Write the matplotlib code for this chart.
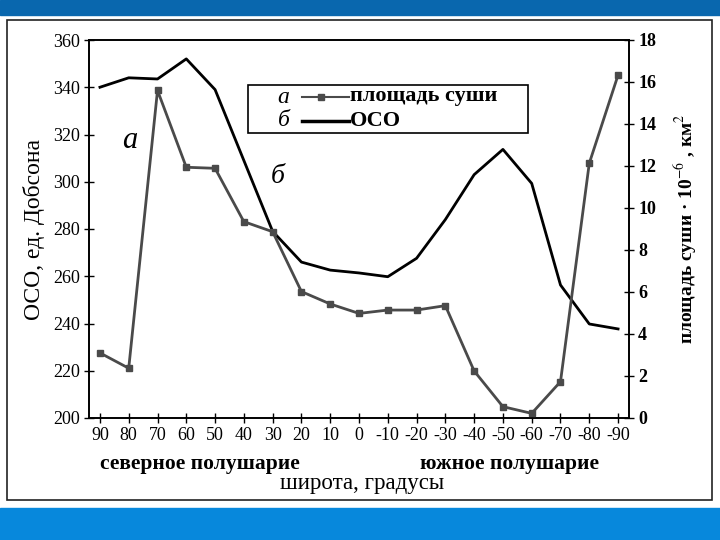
import matplotlib.pyplot as plt
from matplotlib.patches import Rectangle
from matplotlib.lines import Line2D

plt.rcParams['font.family'] = ['Liberation Serif', 'DejaVu Serif']
plt.rcParams['mathtext.fontset'] = 'stix'

# широта, градусы
latitude = [90, 80, 70, 60, 50, 40, 30, 20, 10, 0,
            -10, -20, -30, -40, -50, -60, -70, -80, -90]
lat_labels = ['90', '80', '70', '60', '50', '40', '30', '20', '10', '0',
              '-10', '-20', '-30', '-40', '-50', '-60', '-70', '-80', '-90']
# ОСО, ед. Добсона
oco = [340, 344, 343.5, 352, 339, 309, 279, 266, 262.6, 261.4,
       259.8, 267.6, 284, 303, 313.7, 299.3, 256.3, 239.8, 237.7]
# площадь суши, 10^6 км^2
land = [3.1, 2.37, 15.6, 11.94, 11.89, 9.35, 8.87, 6.02, 5.43, 4.98,
        5.14, 5.14, 5.35, 2.24, 0.54, 0.22, 1.73, 12.13, 16.33]

fig = plt.figure(figsize=(7.2, 5.4), dpi=100)

# slide decoration
fig.patches.append(Rectangle((0, 1 - 15 / 540), 1, 15 / 540, transform=fig.transFigure,
                             color='#0967AE', zorder=0))
fig.patches.append(Rectangle((0, 0), 1, 32 / 540, transform=fig.transFigure,
                             color='#0788DC', zorder=0))
fig.patches.append(Rectangle((7 / 720, 40 / 540), 705 / 720, 480 / 540, transform=fig.transFigure,
                             fill=False, edgecolor='#222222', linewidth=1.2, zorder=1))

ax = fig.add_axes([89 / 720, 122 / 540, 540 / 720, 378 / 540])
ax2 = ax.twinx()

ax.plot(latitude, oco, color='black', linewidth=2, zorder=3)
ax2.plot(latitude, land, color='#4a4a4a', linewidth=2, marker='s', markersize=4,
         markerfacecolor='#4a4a4a', markeredgecolor='#4a4a4a', zorder=3)

ax.set_xlim(93.8, -93.8)
ax.set_ylim(200, 360)
ax2.set_ylim(0, 18)
ax.set_xticks(latitude)
ax.set_xticklabels(lat_labels)
ax.set_yticks(range(200, 361, 20))
ax2.set_yticks(range(0, 19, 2))

ax.tick_params(axis='both', direction='inout', length=7, width=1, labelsize=13, pad=3)
ax2.tick_params(axis='y', direction='inout', length=7, width=1, labelsize=13, pad=3)
for lab in ax2.get_yticklabels():
    lab.set_fontweight('bold')

for a in (ax, ax2):
    for s in a.spines.values():
        s.set_linewidth(1.2)

ax.set_ylabel('ОСО, ед. Добсона', fontsize=17, labelpad=6)
ax2.set_ylabel('площадь суши · 10$^{-6}$ , км$^2$', fontsize=14, fontweight='bold', labelpad=12)

ax.text(0.02, -0.095, 'северное полушарие', transform=ax.transAxes, fontsize=15.5,
        fontweight='bold', va='top', ha='left')
ax.text(0.945, -0.095, 'южное полушарие', transform=ax.transAxes, fontsize=15.5,
        fontweight='bold', va='top', ha='right')
ax.text(0.505, -0.145, 'широта, градусы', transform=ax.transAxes, fontsize=16.5,
        va='top', ha='center')

# series letters
ax.text(0.076, 0.735, 'а', transform=ax.transAxes, fontsize=22, style='italic',
        ha='center', va='center')
ax.text(0.35, 0.64, 'б', transform=ax.transAxes, fontsize=20, style='italic',
        ha='center', va='center')

# legend box
ax.add_patch(Rectangle((0.294, 0.754), 0.519, 0.127, transform=ax.transAxes,
                       fill=False, edgecolor='black', linewidth=1.2, zorder=5))
ax.text(0.36, 0.849, 'а', transform=ax.transAxes, fontsize=17, style='italic',
        ha='center', va='center')
ax.text(0.36, 0.786, 'б', transform=ax.transAxes, fontsize=17, style='italic',
        ha='center', va='center')
ax.add_line(Line2D([0.394, 0.481], [0.849, 0.849], transform=ax.transAxes,
                   color='#4a4a4a', linewidth=1.5, zorder=6))
ax.add_line(Line2D([0.43], [0.849], transform=ax.transAxes, color='#4a4a4a',
                   marker='s', markersize=4, zorder=6))
ax.add_line(Line2D([0.394, 0.481], [0.786, 0.786], transform=ax.transAxes,
                   color='black', linewidth=2.5, zorder=6))
ax.text(0.483, 0.852, 'площадь суши', transform=ax.transAxes, fontsize=16,
        fontweight='bold', ha='left', va='center')
ax.text(0.483, 0.786, 'ОСО', transform=ax.transAxes, fontsize=16,
        fontweight='bold', ha='left', va='center')

fig.savefig('out.png', dpi=100)
